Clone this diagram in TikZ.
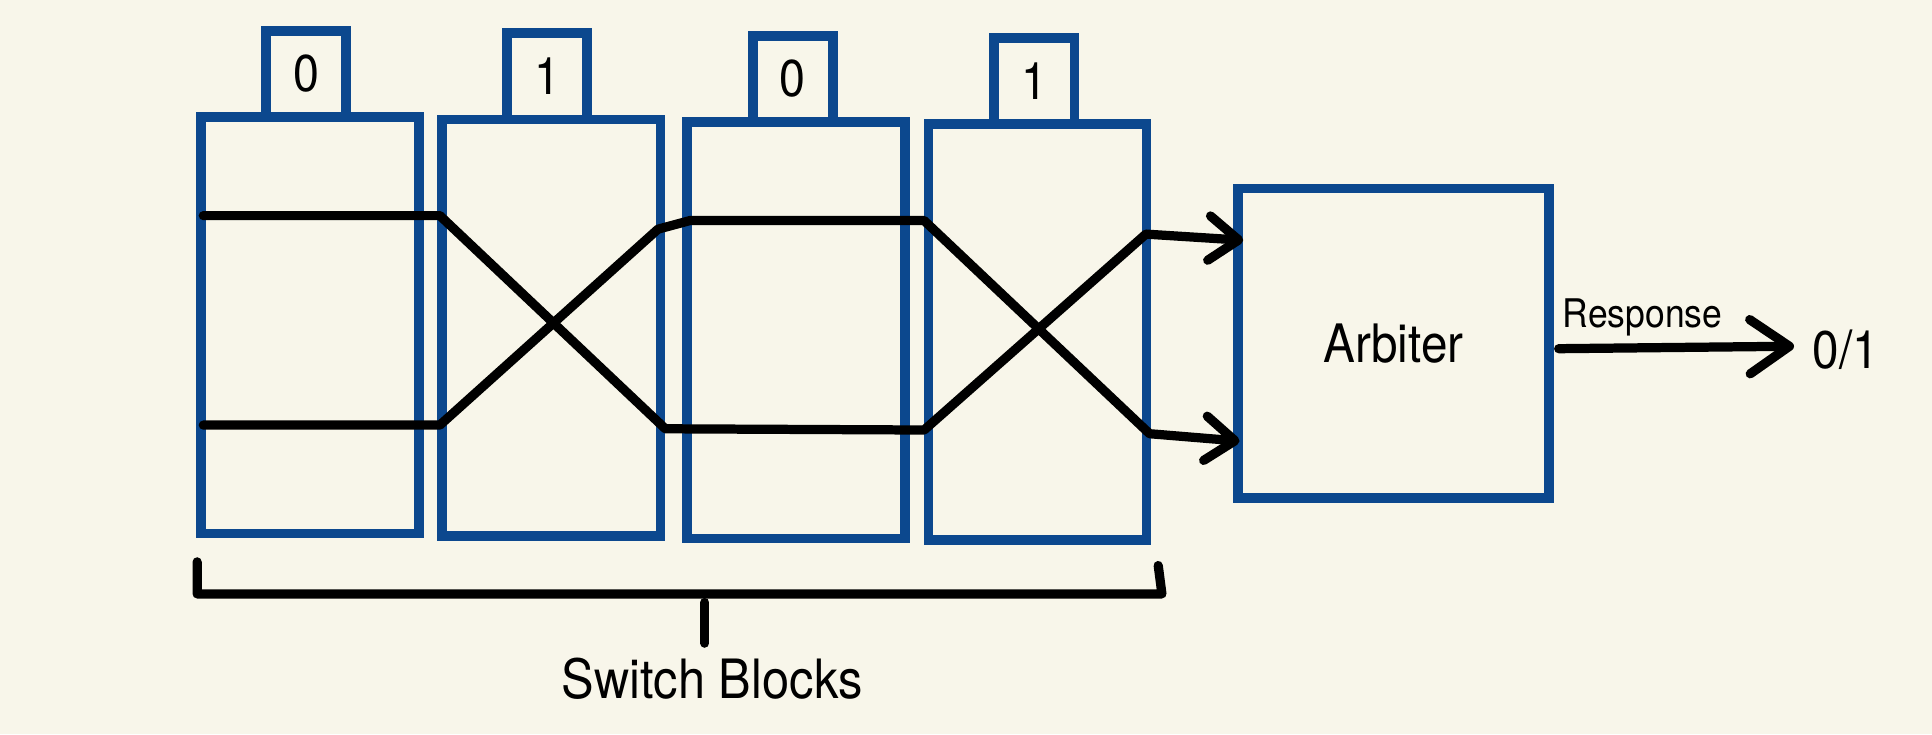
\documentclass[tikz,border=0pt]{standalone}
\usepackage{fontspec}
\setmainfont{TeX Gyre Heros}[FakeStretch=0.9]
\usetikzlibrary{arrows.meta}
\definecolor{bgc}{RGB}{248,246,234}
\definecolor{blu}{RGB}{12,72,142}
\begin{document}
\begin{tikzpicture}[x=1pt,y=-1pt,
  blockbox/.style={draw=blu, line width=8pt, minimum width=177pt, minimum height=338pt, inner sep=0pt},
  tabbox/.style={draw=blu, line width=8pt, minimum width=65pt, minimum height=70pt, inner sep=0pt, font=\fontsize{42}{44}\selectfont},
  wire/.style={line width=7.5pt, line cap=round, line join=round},
  barb/.style={-{Straight Barb[length=24pt,width=36pt,line cap=round,line join=round]}},
  bigbarb/.style={-{Straight Barb[length=32pt,width=44pt,line cap=round,line join=round]}},
  lbl/.style={inner sep=0pt, font=\fontsize{43}{44}\selectfont}
]
\fill[bgc] (0,0) rectangle (1568,596);
\useasboundingbox (0,0) rectangle (1568,596);

% switch blocks
\node[blockbox] (s1) at (251.5,264) {};
\node[blockbox] (s2) at (447.5,266) {};
\node[blockbox] (s3) at (646,268) {};
\node[blockbox] (s4) at (842,269.5) {};
% challenge bit tabs
\node[tabbox] (t1) at (248.5,60) {0};
\node[tabbox] (t2) at (444,62) {1};
\node[tabbox] (t3) at (643.5,64) {0};
\node[tabbox] (t4) at (839.5,65.5) {1};

% arbiter
\node[draw=blu, line width=8pt, minimum width=252pt, minimum height=251pt, inner sep=0pt,
      font=\fontsize{43}{44}\selectfont] (arb) at (1131,278.5) {Arbiter};

% wire points
\coordinate (a1) at (165,175);
\coordinate (a2) at (357,175);
\coordinate (a3) at (540,348);
\coordinate (a4) at (750,349);
\coordinate (a5) at (930,190);
\coordinate (in1) at (1009,195);
\coordinate (b1) at (165,345);
\coordinate (b2) at (357,345);
\coordinate (b3) at (534,186);
\coordinate (b4) at (560,179);
\coordinate (b5) at (750,179);
\coordinate (b6) at (933,352);
\coordinate (in2) at (1006,358);

\draw[wire,barb] (a1) -- (a2) -- (a3) -- (a4) -- (a5) -- (in1);
\draw[wire,barb] (b1) -- (b2) -- (b3) -- (b4) -- (b5) -- (b6) -- (in2);

% response
\node[lbl, font=\fontsize{32}{34}\selectfont] (resp) at (1333,258) {Response};
\node[lbl, font=\fontsize{43}{44}\selectfont, anchor=west] (out) at (1471,284) {0/1};
\coordinate (r0) at (1265,283);
\coordinate (r1) at (1456,281);
\draw[wire,bigbarb] (r0) -- (r1);

% bracket
\coordinate (k1) at (160,456);
\coordinate (k2) at (160,482);
\coordinate (k3) at (943,482);
\coordinate (k4) at (940,459);
\draw[wire] (k1) -- (k2) -- (k3) -- (k4);
\node[lbl, font=\fontsize{44}{46}\selectfont] (sb) at (578,551) {Switch Blocks};
\coordinate (m1) at (572,489);
\coordinate (m2) at (572,522);
\draw[wire] (m1) -- (m2);
\end{tikzpicture}
\end{document}
